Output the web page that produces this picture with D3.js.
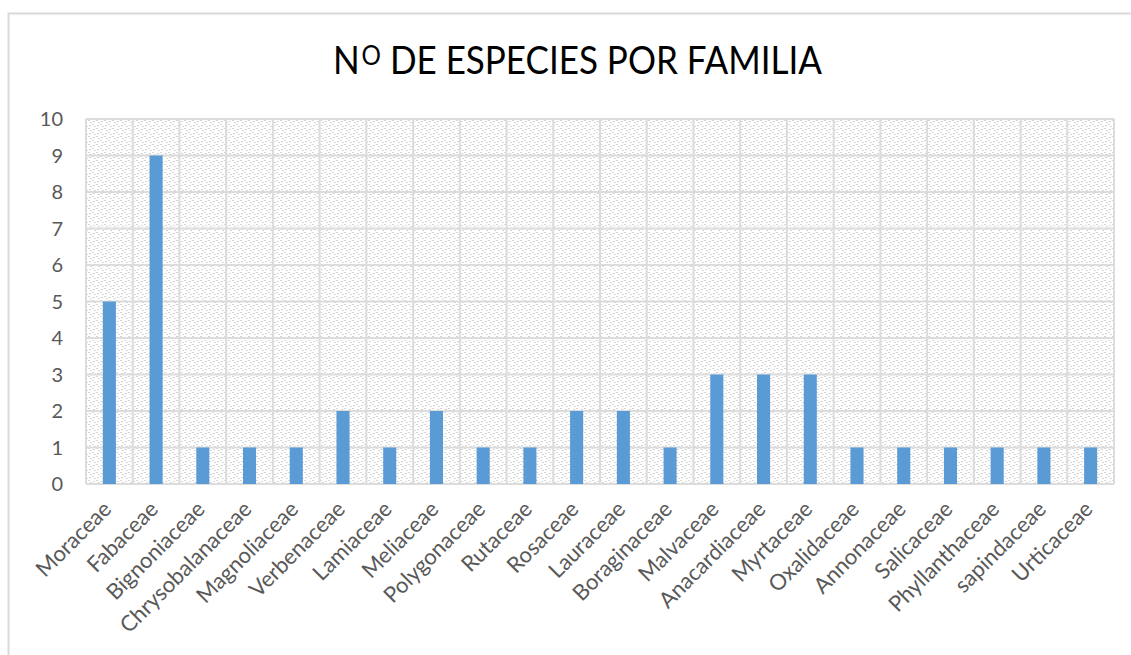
<!DOCTYPE html>
<html>
<head>
<meta charset="utf-8">
<script src="https://cdn.jsdelivr.net/npm/d3@7"></script>
<style>
  body { margin: 0; background: #fff; }
  svg { display: block; }
</style>
</head>
<body>
<div id="chart"></div>
<script>
const families = ["Moraceae", "Fabaceae", "Bignoniaceae", "Chrysobalanaceae", "Magnoliaceae",
  "Verbenaceae", "Lamiaceae", "Meliaceae", "Polygonaceae", "Rutaceae", "Rosaceae", "Lauraceae",
  "Boraginaceae", "Malvaceae", "Anacardiaceae", "Myrtaceae", "Oxalidaceae", "Annonaceae",
  "Salicaceae", "Phyllanthaceae", "sapindaceae", "Urticaceae"];
const especies = [5, 9, 1, 1, 1, 2, 1, 2, 1, 1, 2, 2, 1, 3, 3, 3, 1, 1, 1, 1, 1, 1];
const yTicks = [0, 1, 2, 3, 4, 5, 6, 7, 8, 9, 10];

const width = 1131, height = 655;
const plot = {left: 86, right: 1114, top: 119, bottom: 484};
const font = "Lato, 'Open Sans', sans-serif";

const svg = d3.select("#chart").append("svg")
  .attr("width", width)
  .attr("height", height);

// hatched fill for the plot area
const defs = svg.append("defs");
const pat = defs.append("pattern")
  .attr("id", "hatch")
  .attr("patternUnits", "userSpaceOnUse")
  .attr("width", 8).attr("height", 8);
pat.append("rect").attr("width", 8).attr("height", 8).attr("fill", "#fff");
[[0, 0], [2, 2], [4, 4], [6, 6], [1, 5], [5, 1]].forEach(([px, py]) => {
  pat.append("rect").attr("x", px).attr("y", py)
    .attr("width", 2).attr("height", 1).attr("fill", "#d6d6d6");
});

// outer chart border (cropped)
svg.append("path")
  .attr("d", `M8.5,${height}V13.5H${width}`)
  .attr("fill", "none")
  .attr("stroke", "#d9d9d9")
  .attr("stroke-width", 2);

const x = d3.scaleBand()
  .domain(families)
  .range([plot.left, plot.right])
  .paddingInner(0.72)
  .paddingOuter(0.36);

const xCat = d3.scaleBand()
  .domain(families)
  .range([plot.left, plot.right]);

const y = d3.scaleLinear()
  .domain([0, 10])
  .range([plot.bottom, plot.top]);

svg.append("rect")
  .attr("x", plot.left).attr("y", plot.top)
  .attr("width", plot.right - plot.left)
  .attr("height", plot.bottom - plot.top)
  .attr("fill", "url(#hatch)");

// gridlines
const grid = svg.append("g").attr("stroke", "#dcdcdc").attr("stroke-width", 2);
grid.selectAll("line.h")
  .data(yTicks)
  .join("line")
  .attr("class", "h")
  .attr("x1", plot.left).attr("x2", plot.right)
  .attr("y1", d => y(d)).attr("y2", d => y(d));
grid.selectAll("line.v")
  .data(families.concat(["_end"]))
  .join("line")
  .attr("class", "v")
  .attr("x1", (d, i) => i < families.length ? xCat(d) : plot.right)
  .attr("x2", (d, i) => i < families.length ? xCat(d) : plot.right)
  .attr("y1", plot.top).attr("y2", plot.bottom);

// bars
svg.append("g")
  .selectAll("rect")
  .data(especies)
  .join("rect")
  .attr("x", (d, i) => x(families[i]))
  .attr("y", d => y(d))
  .attr("width", x.bandwidth())
  .attr("height", d => y(0) - y(d))
  .attr("fill", "#5b9bd5");

// y axis labels
svg.append("g")
  .selectAll("text")
  .data(yTicks)
  .join("text")
  .attr("x", 63)
  .attr("y", d => y(d))
  .attr("dy", "0.36em")
  .attr("text-anchor", "end")
  .attr("font-family", font)
  .attr("font-size", 20)
  .attr("fill", "#595959")
  .text(d => d);

// x axis labels
svg.append("g")
  .selectAll("text")
  .data(families)
  .join("text")
  .attr("transform", d => `translate(${xCat(d) + xCat.bandwidth() / 2 - 2},${plot.bottom + 21}) rotate(-45)`)
  .attr("text-anchor", "end")
  .attr("dy", "0.35em")
  .attr("font-family", font)
  .attr("font-size", 22)
  .attr("fill", "#595959")
  .text(d => d);

// title
const title = svg.append("text")
  .attr("x", 333)
  .attr("y", 74)
  .attr("textLength", 489)
  .attr("lengthAdjust", "spacingAndGlyphs")
  .attr("font-family", font)
  .attr("font-size", 39)
  .attr("fill", "#000");
title.append("tspan").text("N");
title.append("tspan").attr("font-size", 27).attr("dx", 2).attr("dy", -9).text("O");
title.append("tspan").attr("dy", 9).text(" DE ESPECIES POR FAMILIA");
</script>
</body>
</html>
